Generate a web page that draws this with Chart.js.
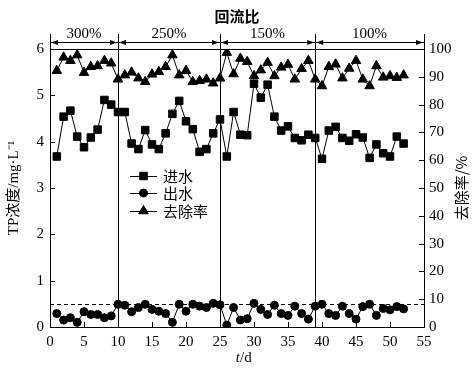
<!DOCTYPE html>
<html>
<head>
<meta charset="utf-8">
<script src="https://cdn.jsdelivr.net/npm/chart.js@4.4.0/dist/chart.umd.min.js"></script>
<style>
    body { margin: 0; background: #fff; }
    canvas { display: block; }
</style>
</head>
<body>
<canvas id="chart" width="473" height="372"></canvas>
<script>
/*------------------------------------DATA------------------------------------*/
const days = [1, 2, 3, 4, 5, 6, 7, 8, 9, 10, 11, 12, 13, 14, 15, 16, 17, 18, 19, 20,
    21, 22, 23, 24, 25, 26, 27, 28, 29, 30, 31, 32, 33, 34, 35, 36, 37, 38, 39, 40,
    41, 42, 43, 44, 45, 46, 47, 48, 49, 50, 51, 52];
// 进水 TP mg/L
const influent = [3.68, 4.54, 4.67, 4.11, 3.88, 4.09, 4.26, 4.90, 4.80, 4.64,
    4.64, 3.96, 3.84, 4.25, 3.94, 3.84, 4.18, 4.60, 4.88, 4.44,
    4.27, 3.78, 3.84, 4.18, 4.48, 3.68, 4.64, 4.15, 4.14, 5.25,
    4.95, 5.23, 4.54, 4.24, 4.33, 4.08, 4.03, 4.15, 4.08, 3.63,
    4.24, 4.32, 4.08, 4.02, 4.16, 4.09, 3.65, 3.94, 3.75, 3.68, 4.11, 3.96];
// 出水 TP mg/L
const effluent = [0.29, 0.15, 0.20, 0.10, 0.33, 0.27, 0.27, 0.20, 0.24, 0.49,
    0.47, 0.33, 0.42, 0.49, 0.38, 0.34, 0.29, 0.10, 0.49, 0.34,
    0.49, 0.45, 0.42, 0.51, 0.48, 0.04, 0.42, 0.15, 0.18, 0.51,
    0.38, 0.27, 0.47, 0.29, 0.25, 0.45, 0.29, 0.17, 0.45, 0.49,
    0.29, 0.25, 0.45, 0.29, 0.17, 0.44, 0.49, 0.25, 0.40, 0.37, 0.44, 0.39];
// 去除率 %
const removal = [92.2, 97.0, 95.8, 97.8, 91.5, 93.6, 93.9, 95.8, 94.9, 89.1,
    90.6, 91.6, 89.5, 88.2, 90.9, 91.8, 93.6, 97.8, 90.6, 92.2,
    88.2, 88.6, 89.1, 87.7, 89.5, 98.7, 91.0, 96.6, 95.4, 90.3,
    92.4, 95.1, 90.3, 93.4, 94.4, 89.1, 92.9, 95.8, 89.1, 86.7,
    93.6, 94.5, 89.5, 93.0, 95.8, 89.1, 86.7, 93.9, 89.8, 90.3, 89.7, 90.6];

const phaseBreaks = [0, 10, 25, 39, 55];
const phaseLabels = ['300%', '250%', '150%', '100%'];
const limitLine = 0.5;

const serif = '"Liberation Serif", "Noto Sans CJK SC", serif';
const cjk = '"Noto Sans CJK SC", "Liberation Serif", sans-serif';

function pts(values) {
    return days.map((d, i) => ({ x: d, y: values[i] }));
}

/*-----------------------------------PLUGIN-----------------------------------*/
const decor = {
    id: 'decor',
    beforeDraw(chart) {
        const ctx = chart.ctx;
        ctx.save();
        ctx.fillStyle = '#fff';
        ctx.fillRect(0, 0, chart.width, chart.height);
        ctx.restore();
    },
    afterDatasetsDraw(chart) {
        const ctx = chart.ctx;
        const area = chart.chartArea;
        const xs = chart.scales.x, ys = chart.scales.y, ys2 = chart.scales.y2;
        ctx.save();
        ctx.strokeStyle = '#000';
        ctx.fillStyle = '#000';
        ctx.lineWidth = 1;

        // top frame
        ctx.beginPath();
        ctx.moveTo(area.left, area.top + 0.5);
        ctx.lineTo(area.right, area.top + 0.5);
        ctx.stroke();

        // inner ticks
        ctx.beginPath();
        xs.ticks.forEach(t => {
            const px = Math.round(xs.getPixelForValue(t.value)) + 0.5;
            ctx.moveTo(px, area.bottom);
            ctx.lineTo(px, area.bottom - 5);
        });
        ys.ticks.forEach(t => {
            const py = Math.round(ys.getPixelForValue(t.value)) + 0.5;
            ctx.moveTo(area.left, py);
            ctx.lineTo(area.left + 5, py);
        });
        ys2.ticks.forEach(t => {
            const py = Math.round(ys2.getPixelForValue(t.value)) + 0.5;
            ctx.moveTo(area.right, py);
            ctx.lineTo(area.right - 5, py);
        });
        ctx.stroke();

        // dashed limit
        ctx.save();
        ctx.setLineDash([4, 3]);
        ctx.beginPath();
        const ly = Math.round(ys.getPixelForValue(limitLine)) + 0.5;
        ctx.moveTo(area.left, ly);
        ctx.lineTo(area.right, ly);
        ctx.stroke();
        ctx.restore();

        // phase separators and header arrows
        const barTop = area.top - 15;
        const arrowY = area.top - 6.5;
        ctx.beginPath();
        phaseBreaks.forEach((b, i) => {
            const px = Math.round(xs.getPixelForValue(b)) + 0.5;
            const inner = i > 0 && i < phaseBreaks.length - 1;
            ctx.moveTo(px, barTop);
            ctx.lineTo(px, inner ? area.bottom : area.top);
        });
        ctx.moveTo(area.left, arrowY);
        ctx.lineTo(area.right, arrowY);
        ctx.stroke();

        ctx.font = '15px ' + serif;
        ctx.textAlign = 'center';
        ctx.textBaseline = 'alphabetic';
        for (let i = 0; i < phaseLabels.length; i++) {
            const a = xs.getPixelForValue(phaseBreaks[i]);
            const b = xs.getPixelForValue(phaseBreaks[i + 1]);
            // arrow heads
            ctx.beginPath();
            ctx.moveTo(a + 1, arrowY);
            ctx.lineTo(a + 8, arrowY - 2.5);
            ctx.lineTo(a + 8, arrowY + 2.5);
            ctx.closePath();
            ctx.moveTo(b - 1, arrowY);
            ctx.lineTo(b - 8, arrowY - 2.5);
            ctx.lineTo(b - 8, arrowY + 2.5);
            ctx.closePath();
            ctx.fill();
            ctx.fillText(phaseLabels[i], (a + b) / 2, area.top - 11);
        }

        ctx.font = 'bold 15px ' + cjk;
        ctx.textBaseline = 'middle';
        ctx.fillText('回流比', (area.left + area.right) / 2, 16);

        // axis titles
        ctx.font = 'italic 15px ' + serif;
        ctx.textAlign = 'right';
        const tx = (area.left + area.right) / 2 + 3;
        ctx.fillText('t', tx, 358);
        ctx.font = '15px ' + serif;
        ctx.textAlign = 'left';
        ctx.fillText('/d', tx, 358);

        ctx.save();
        ctx.translate(14, 188);
        ctx.rotate(-Math.PI / 2);
        ctx.textAlign = 'center';
        ctx.font = '15px ' + serif;
        ctx.fillText('TP浓度/mg·L\u207B\u00B9', 0, 0);
        ctx.restore();

        ctx.save();
        ctx.translate(461, 188);
        ctx.rotate(-Math.PI / 2);
        ctx.textAlign = 'center';
        ctx.font = '15px ' + cjk;
        ctx.fillText('去除率/%', 0, 0);
        ctx.restore();

        // legend
        const rows = [
            { label: '进水', style: 'rect', r: 5.3, y: 176 },
            { label: '出水', style: 'circle', r: 4, y: 193 },
            { label: '去除率', style: 'triangle', r: 5.5, y: 211 }
        ];
        ctx.font = '15px ' + cjk;
        ctx.textAlign = 'left';
        ctx.textBaseline = 'middle';
        rows.forEach(row => {
            ctx.beginPath();
            ctx.moveTo(130, row.y + 0.5);
            ctx.lineTo(157, row.y + 0.5);
            ctx.stroke();
            Chart.helpers.drawPoint(ctx, { pointStyle: row.style, radius: row.r, borderWidth: 1, rotation: 0 }, 143.5, row.y);
            ctx.fill();
            ctx.fillText(row.label, 163, row.y);
        });

        ctx.restore();
    }
};

/*-----------------------------------CHART------------------------------------*/
const lineDefaults = {
    borderColor: '#000',
    backgroundColor: '#000',
    pointBorderColor: '#000',
    pointBackgroundColor: '#000',
    borderWidth: 1,
    pointBorderWidth: 1,
    tension: 0,
    fill: false
};

const tickFont = { family: serif, size: 15 };

new Chart(document.getElementById('chart'), {
    type: 'line',
    data: {
        datasets: [
            Object.assign({ label: '进水', data: pts(influent), yAxisID: 'y', pointStyle: 'rect', pointRadius: 5.3 }, lineDefaults),
            Object.assign({ label: '出水', data: pts(effluent), yAxisID: 'y', pointStyle: 'circle', pointRadius: 4 }, lineDefaults),
            Object.assign({ label: '去除率', data: pts(removal), yAxisID: 'y2', pointStyle: 'triangle', pointRadius: 5.5 }, lineDefaults)
        ]
    },
    options: {
        responsive: false,
        animation: false,
        layout: { padding: { top: 49, left: 0, right: 0, bottom: 0 } },
        plugins: {
            legend: { display: false },
            tooltip: { enabled: false }
        },
        scales: {
            x: {
                type: 'linear',
                min: 0,
                max: 55,
                grid: { display: false, drawTicks: false },
                border: { color: '#000', width: 1 },
                ticks: { stepSize: 5, color: '#000', padding: 6, font: tickFont },
                afterFit: s => { s.height = 45; }
            },
            y: {
                position: 'left',
                min: 0,
                max: 6,
                grid: { display: false, drawTicks: false },
                border: { color: '#000', width: 1 },
                ticks: { stepSize: 1, color: '#000', padding: 6, font: tickFont },
                afterFit: s => { s.width = 50; }
            },
            y2: {
                position: 'right',
                min: 0,
                max: 100,
                grid: { display: false, drawTicks: false },
                border: { color: '#000', width: 1 },
                ticks: { stepSize: 10, color: '#000', padding: 5, font: tickFont },
                afterFit: s => { s.width = 49; }
            }
        }
    },
    plugins: [decor]
});
</script>
</body>
</html>
